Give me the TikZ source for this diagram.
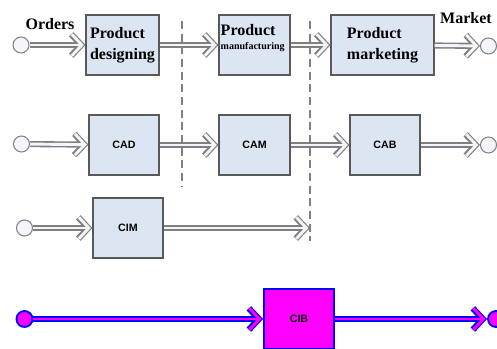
\documentclass[tikz,border=0pt]{standalone}
\usepackage{fontspec}
\setmainfont{Liberation Serif}
\setsansfont{Liberation Sans}
\usetikzlibrary{arrows.meta}

\definecolor{boxfill}{HTML}{DCE6F2}
\definecolor{boxline}{HTML}{595959}
\definecolor{pipe}{HTML}{7F7F7F}
\definecolor{pipein}{HTML}{F2F5FA}
\definecolor{pinkfill}{HTML}{FF00FF}
\definecolor{pinkline}{HTML}{0000FF}

\tikzset{
  blk/.style={draw=boxline, fill=boxfill, line width=0.8pt,
    minimum width=#1, minimum height=45pt, inner sep=2pt},
  blk/.default=52.5pt,
  hd/.style={font=\bfseries\fontsize{12}{15.5}\selectfont, align=left},
  cd/.style={font=\sffamily\bfseries\fontsize{8}{10}\selectfont},
  port/.style={circle, draw=pipe, fill=pipein, line width=0.8pt,
    minimum size=12pt, inner sep=0pt},
  % hollow pipe: a wide stroke with a narrow one on top
  pipeline/.style 2 args={draw=#1, line width=4.6pt,
    -{Straight Barb[length=7.5pt, width=16pt]},
    postaction={draw=#2, line width=2.2pt, shorten >=1.2pt,
      -{Straight Barb[length=7.5pt, width=16pt]}}},
  flow/.style={pipeline={pipe}{pipein}},
  pflow/.style={pipeline={pinkline}{pinkfill}},
  sep/.style={draw=pipe, line width=0.8pt, dash pattern=on 6pt off 3.5pt},
  pink/.style={draw=pinkline, fill=pinkfill, line width=1.4pt},
}

\begin{document}
\begin{tikzpicture}[x=0.75pt, y=-0.75pt]
    \useasboundingbox (0,0) rectangle (497,349);

    % company process
    \node[port] (S1) at (21, 45) {};
    \node[blk=54.75pt, hd] (P1) at (122.5, 45) {Product\\designing};
    \node[blk=53.25pt] (P2) at (254.5, 45) {};
    \node[hd, anchor=north west, inner sep=0pt] (P2t)
      at ([shift={(1.5pt,-7.5pt)}]P2.north west)
      {Product\\[-5pt]{\fontsize{7.5}{9}\selectfont manufacturing}};
    \node[blk=77.25pt, hd] (P3) at (382.5, 45) {Product\\marketing};
    \node[port] (E1) at (488.5, 46) {};
    \node[font=\bfseries\fontsize{12}{14}\selectfont] (ord) at (50, 24) {Orders};
    \node[font=\bfseries\fontsize{12}{14}\selectfont] (mkt) at (466, 18) {Market};

    % computer support
    \node[port] (S2) at (21.5, 144) {};
    \node[blk, cd] (C1) at (124, 145) {CAD};
    \node[blk=53.25pt, cd] (C2) at (254.5, 145) {CAM};
    \node[blk, cd] (C3) at (385, 145) {CAB};
    \node[port] (E2) at (488.5, 145) {};

    \node[port] (S3) at (24.5, 228) {};
    \node[blk, cd] (M1) at (128, 228) {CIM};

    % dashed borders
    \coordinate (L1) at (182, 21);
    \coordinate (L2) at (182, 186);
    \coordinate (R1) at (310, 21);
    \coordinate (R2) at (310, 241);
    \coordinate (M2) at (310, 228);
    \draw[sep] (L1) -- (L2);
    \draw[sep] (R1) -- (R2);

    % integrated business
    \node[port, pink] (S4) at (24.5, 319) {};
    \node[blk, pink, cd] (B1) at (299, 319) {CIB};
    \node[port, pink] (E4) at (496, 319) {};

    \draw[flow] (S1) -- (P1);
    \draw[flow] (P1) -- (P2);
    \draw[flow] (P2) -- (P3);
    \draw[flow] (P3) -- (E1);
    \draw[flow] (S2) -- (C1);
    \draw[flow] (C1) -- (C2);
    \draw[flow] (C2) -- (C3);
    \draw[flow] (C3) -- (E2);
    \draw[flow] (S3) -- (M1);
    \draw[flow] (M1) -- (M2);
    \draw[pflow] (S4) -- (B1);
    \draw[pflow] (B1) -- (E4);
\end{tikzpicture}
\end{document}
